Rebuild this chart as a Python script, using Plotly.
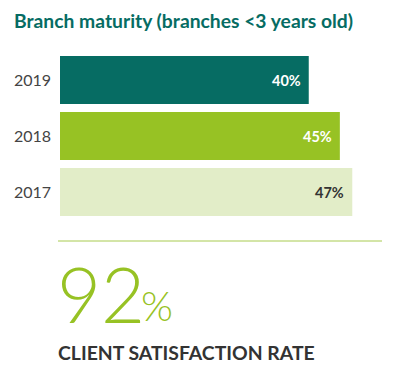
import plotly.graph_objects as go

years = ["2019", "2018", "2017"]
values = [40, 45, 47]
bar_colors = ["#066c63", "#97c224", "#e2edc8"]
label_colors = ["#ffffff", "#ffffff", "#333333"]
title_text = "Branch maturity (branches <3 years old)"
big_value = "92"
big_label = "CLIENT SATISFACTION RATE"

OFF = 8  # page body margin offset
W, H = 398, 378
L, T, PW, PH = 60 - OFF, 52 - OFF, 324, 168
R = W - L - PW
B = H - T - PH

order = years[::-1]

fig = go.Figure()
fig.add_trace(go.Bar(
    x=values, y=years, orientation="h",
    marker=dict(color=bar_colors, line=dict(width=0)),
    hoverinfo="skip",
))

for v, yr, c in zip(values, years, label_colors):
    fig.add_annotation(x=v, y=order.index(yr), text=f"<b>{v}%</b>", showarrow=False,
                       xanchor="right", xshift=-6, yshift=0,
                       font=dict(family="Lato", size=14.5, color=c))

fig.update_layout(
    width=W, height=H,
    margin=dict(l=L, r=R, t=T, b=B, autoexpand=False),
    paper_bgcolor="white", plot_bgcolor="white",
    bargap=0.14,
    showlegend=False,
    xaxis=dict(range=[0, 52.1], visible=False, fixedrange=True, automargin=False),
    yaxis=dict(type="category", categoryorder="array", categoryarray=order,
               range=[-0.5, 2.5], fixedrange=True,
               showgrid=False, showline=False, zeroline=False, automargin=False,
               ticks="", ticklabelstandoff=8,
               tickfont=dict(family="Lato", size=16, color="#444444")),
)

def px(x):
    return (x - OFF - L) / PW
def py(y):
    return (H - B - (y - OFF)) / PH

# Title
fig.add_annotation(xref="paper", yref="paper", x=px(12), y=py(20),
                   text=f"<b>{title_text}</b>", showarrow=False,
                   xanchor="left", yanchor="middle",
                   font=dict(family="Lato", size=19.3, color="#066c63"))

# Divider line
fig.add_shape(type="line", xref="paper", yref="paper",
              x0=px(58), x1=px(382), y0=py(241), y1=py(241),
              line=dict(color="#a8cb50", width=1))

# Big number
fig.add_annotation(xref="paper", yref="paper", x=px(55), y=py(293),
                   text=big_value, showarrow=False, xanchor="left", yanchor="middle",
                   font=dict(family="Lato", size=76, color="#97c224", weight=300))
fig.add_annotation(xref="paper", yref="paper", x=px(139), y=py(305),
                   text="%", showarrow=False, xanchor="left", yanchor="middle",
                   font=dict(family="Lato", size=41, color="#97c224", weight=300))

fig.add_annotation(xref="paper", yref="paper", x=px(56), y=py(352),
                   text=f"<b>{big_label}</b>", showarrow=False, xanchor="left", yanchor="middle",
                   font=dict(family="Lato", size=19.4, color="#333333"))

fig.write_html("out.html")
